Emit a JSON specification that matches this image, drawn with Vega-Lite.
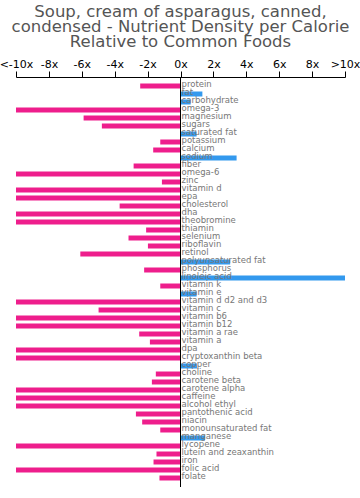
{
  "$schema": "https://vega.github.io/schema/vega-lite/v6.json",
  "autosize": "none",
  "width": 329,
  "height": 410,
  "padding": {"left": 16, "top": 77, "right": 15, "bottom": 11},
  "background": "white",
  "title": {
    "text": ["Soup, cream of asparagus, canned,", "condensed - Nutrient Density per Calorie", "Relative to Common Foods"],
    "font": "DejaVu Sans",
    "fontSize": 16.5,
    "fontWeight": "normal",
    "color": "#555555",
    "lineHeight": 15,
    "anchor": "middle",
    "offset": 8
  },
  "config": {
    "view": {"stroke": null},
    "axisX": {
      "grid": false,
      "domainColor": "#000000",
      "tickColor": "#000000",
      "tickSize": 6,
      "labelColor": "#000000",
      "labelFont": "DejaVu Sans",
      "labelFontSize": 11,
      "labelPadding": 2,
      "labelFlush": false,
      "labelOverlap": false,
      "labelBound": false
    }
  },
  "data": {
    "values": [
      {"n": "protein", "v": -2.45},
      {"n": "fat", "v": 1.33},
      {"n": "carbohydrate", "v": 0.62},
      {"n": "omega-3", "v": -10},
      {"n": "magnesium", "v": -5.89},
      {"n": "sugars", "v": -4.78},
      {"n": "saturated fat", "v": 0.98},
      {"n": "potassium", "v": -1.23},
      {"n": "calcium", "v": -1.66},
      {"n": "sodium", "v": 3.41},
      {"n": "fiber", "v": -2.85},
      {"n": "omega-6", "v": -10},
      {"n": "zinc", "v": -1.13},
      {"n": "vitamin d", "v": -10},
      {"n": "epa", "v": -10},
      {"n": "cholesterol", "v": -3.7},
      {"n": "dha", "v": -10},
      {"n": "theobromine", "v": -10},
      {"n": "thiamin", "v": -2.09},
      {"n": "selenium", "v": -3.16},
      {"n": "riboflavin", "v": -1.98},
      {"n": "retinol", "v": -6.09},
      {"n": "polyunsaturated fat", "v": 3.02},
      {"n": "phosphorus", "v": -2.21},
      {"n": "linoleic acid", "v": 10},
      {"n": "vitamin k", "v": -1.23},
      {"n": "vitamin e", "v": 0.98},
      {"n": "vitamin d d2 and d3", "v": -10},
      {"n": "vitamin c", "v": -4.98},
      {"n": "vitamin b6", "v": -10},
      {"n": "vitamin b12", "v": -10},
      {"n": "vitamin a rae", "v": -2.51},
      {"n": "vitamin a", "v": -1.86},
      {"n": "dpa", "v": -10},
      {"n": "cryptoxanthin beta", "v": -10},
      {"n": "copper", "v": 1.0},
      {"n": "choline", "v": -1.5},
      {"n": "carotene beta", "v": -1.74},
      {"n": "carotene alpha", "v": -10},
      {"n": "caffeine", "v": -10},
      {"n": "alcohol ethyl", "v": -10},
      {"n": "pantothenic acid", "v": -2.71},
      {"n": "niacin", "v": -2.33},
      {"n": "monounsaturated fat", "v": -1.23},
      {"n": "manganese", "v": 1.49},
      {"n": "lycopene", "v": -10},
      {"n": "lutein and zeaxanthin", "v": -1.46},
      {"n": "iron", "v": -1.64},
      {"n": "folic acid", "v": -10},
      {"n": "folate", "v": -1.28}
    ]
  },
  "encoding": {
    "y": {
      "field": "n",
      "type": "nominal",
      "sort": null,
      "scale": {"paddingInner": 0, "paddingOuter": 0.625, "align": 0.5},
      "axis": null
    },
    "x": {
      "field": "v",
      "type": "quantitative",
      "scale": {"domain": [-10, 10], "nice": false, "clamp": true},
      "axis": {
        "orient": "top",
        "title": null,
        "values": [-10, -8, -6, -4, -2, 0, 2, 4, 6, 8, 10],
        "labelExpr": "datum.value <= -10 ? '<-10x' : (datum.value >= 10 ? '>10x' : datum.value + 'x')",
        "labelOverlap": false
      }
    }
  },
  "layer": [
    {
      "mark": {"type": "bar", "height": 5},
      "encoding": {
        "x2": {"datum": 0},
        "color": {
          "condition": {"test": "datum.v < 0", "value": "#ee1e8c"},
          "value": "#3399ee"
        }
      }
    },
    {
      "mark": {"type": "rule", "color": "#000000", "strokeWidth": 1},
      "encoding": {"x": {"datum": 0, "type": "quantitative"}, "y": null}
    },
    {
      "mark": {
        "type": "text",
        "align": "left",
        "baseline": "alphabetic",
        "dx": 1,
        "dy": 1,
        "font": "DejaVu Sans",
        "fontSize": 8.5,
        "color": "#777777"
      },
      "encoding": {
        "x": {"datum": 0, "type": "quantitative"},
        "text": {"field": "n"}
      }
    }
  ]
}
